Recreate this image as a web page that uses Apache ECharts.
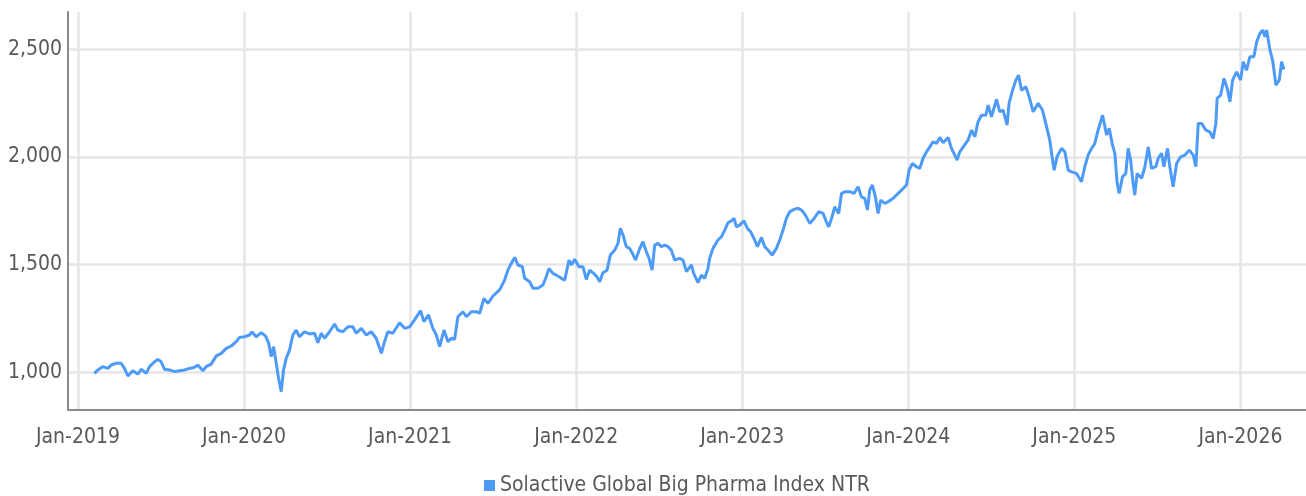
<!DOCTYPE html>
<html>
<head>
<meta charset="utf-8">
<script src="https://cdn.jsdelivr.net/npm/echarts@6/dist/echarts.min.js"></script>
<style>
html, body { margin: 0; padding: 0; background: #fff; }
#main { width: 1306px; height: 496px; }
</style>
</head>
<body>
<div id="main"></div>
<script>
var seriesName = 'Solactive Global Big Pharma Index NTR';
var yearTicks = [2019, 2020, 2021, 2022, 2023, 2024, 2025, 2026];
var valueTicks = [1000, 1500, 2000, 2500];

// position in decimal years
var dates = [
    2019.099, 2019.119, 2019.149, 2019.180, 2019.200, 2019.230, 2019.260, 2019.280, 2019.300, 2019.330,
    2019.360, 2019.381, 2019.411, 2019.431, 2019.461, 2019.481, 2019.501, 2019.521, 2019.551, 2019.581,
    2019.611, 2019.642, 2019.672, 2019.702, 2019.722, 2019.752, 2019.772, 2019.802, 2019.833, 2019.863,
    2019.893, 2019.923, 2019.953, 2019.973,
    2020.003, 2020.033, 2020.047, 2020.073, 2020.104, 2020.130, 2020.149, 2020.164, 2020.178, 2020.194,
    2020.208, 2020.224, 2020.238, 2020.254, 2020.274, 2020.294, 2020.314, 2020.334, 2020.364, 2020.395,
    2020.425, 2020.445, 2020.465, 2020.485, 2020.515, 2020.545, 2020.565, 2020.595, 2020.625, 2020.655,
    2020.676, 2020.706, 2020.736, 2020.766, 2020.796, 2020.827, 2020.846, 2020.866, 2020.896, 2020.937,
    2020.967, 2020.997,
    2021.027, 2021.063, 2021.083, 2021.111, 2021.137, 2021.158, 2021.178, 2021.204, 2021.228, 2021.248,
    2021.268, 2021.288, 2021.318, 2021.339, 2021.369, 2021.399, 2021.419, 2021.445, 2021.469, 2021.499,
    2021.539, 2021.569, 2021.589, 2021.610, 2021.630, 2021.649, 2021.676, 2021.690, 2021.720, 2021.740,
    2021.770, 2021.800, 2021.820, 2021.836, 2021.860, 2021.890, 2021.911, 2021.931, 2021.957, 2021.971,
    2021.991,
    2022.017, 2022.041, 2022.061, 2022.081, 2022.105, 2022.125, 2022.142, 2022.161, 2022.186, 2022.206,
    2022.232, 2022.252, 2022.266, 2022.282, 2022.302, 2022.322, 2022.339, 2022.358, 2022.383, 2022.402,
    2022.423, 2022.439, 2022.457, 2022.473, 2022.493, 2022.513, 2022.533, 2022.553, 2022.573, 2022.593,
    2022.623, 2022.643, 2022.664, 2022.694, 2022.708, 2022.734, 2022.754, 2022.774, 2022.794, 2022.804,
    2022.824, 2022.854, 2022.875, 2022.895, 2022.914, 2022.935, 2022.951, 2022.965, 2022.985,
    2023.011, 2023.031, 2023.051, 2023.071, 2023.092, 2023.116, 2023.136, 2023.155, 2023.180, 2023.206,
    2023.226, 2023.246, 2023.266, 2023.286, 2023.312, 2023.336, 2023.357, 2023.377, 2023.407, 2023.433,
    2023.461, 2023.487, 2023.507, 2023.521, 2023.541, 2023.557, 2023.581, 2023.598, 2023.622, 2023.648,
    2023.673, 2023.698, 2023.718, 2023.738, 2023.754, 2023.768, 2023.784, 2023.802, 2023.818, 2023.834,
    2023.858, 2023.878, 2023.908, 2023.939, 2023.969, 2023.989,
    2024.005, 2024.025, 2024.049, 2024.069, 2024.089, 2024.110, 2024.130, 2024.149, 2024.170, 2024.190,
    2024.210, 2024.240, 2024.260, 2024.280, 2024.294, 2024.310, 2024.334, 2024.360, 2024.381, 2024.401,
    2024.420, 2024.441, 2024.467, 2024.481, 2024.501, 2024.531, 2024.551, 2024.571, 2024.595, 2024.607,
    2024.628, 2024.648, 2024.664, 2024.682, 2024.708, 2024.728, 2024.752, 2024.782, 2024.808, 2024.833,
    2024.852, 2024.866, 2024.878, 2024.896, 2024.923, 2024.943, 2024.963, 2024.983,
    2025.013, 2025.043, 2025.063, 2025.083, 2025.104, 2025.123, 2025.143, 2025.170, 2025.194, 2025.210,
    2025.230, 2025.244, 2025.258, 2025.270, 2025.290, 2025.310, 2025.324, 2025.339, 2025.354, 2025.364,
    2025.378, 2025.405, 2025.425, 2025.445, 2025.465, 2025.491, 2025.505, 2025.525, 2025.539, 2025.561,
    2025.575, 2025.595, 2025.616, 2025.640, 2025.666, 2025.692, 2025.716, 2025.732, 2025.746, 2025.766,
    2025.792, 2025.816, 2025.836, 2025.852, 2025.860, 2025.881, 2025.901, 2025.921, 2025.937, 2025.953,
    2025.977,
    2026.001, 2026.017, 2026.037, 2026.057, 2026.081, 2026.098, 2026.117, 2026.134, 2026.148, 2026.158,
    2026.178, 2026.194, 2026.214, 2026.234, 2026.248, 2026.262
];

var values = [
    995, 1011, 1026, 1018, 1034, 1042, 1042, 1018, 983, 1007,
    992, 1014, 995, 1026, 1049, 1060, 1049, 1014, 1011, 1003,
    1007, 1011, 1018, 1023, 1034, 1007, 1026, 1038, 1076, 1088,
    1111, 1122, 1142, 1162,
    1165, 1173, 1188, 1165, 1184, 1168, 1134, 1072, 1119, 1042,
    972, 910, 1011, 1065, 1103, 1173, 1196, 1165, 1188, 1178,
    1181, 1137, 1181, 1158, 1188, 1224, 1196, 1188, 1211, 1211,
    1181, 1204, 1173, 1188, 1158, 1088, 1142, 1188, 1181, 1230,
    1204, 1211,
    1243, 1286, 1235, 1266, 1204, 1173, 1119, 1196, 1142, 1158,
    1153, 1258, 1281, 1258, 1281, 1281, 1274, 1343, 1320, 1354,
    1382, 1428, 1474, 1506, 1533, 1498, 1490, 1436, 1420, 1390,
    1390, 1405, 1443, 1482, 1459, 1447, 1436, 1428, 1521, 1498,
    1524,
    1490, 1490, 1431, 1474, 1459, 1443, 1420, 1462, 1474, 1544,
    1567, 1598, 1668, 1637, 1583, 1575, 1552, 1521, 1575, 1606,
    1559, 1529, 1474, 1590, 1598, 1583, 1590, 1583, 1567, 1521,
    1529, 1521, 1467, 1498, 1459, 1416, 1451, 1436, 1482, 1529,
    1575, 1614, 1629, 1660, 1694, 1703, 1714, 1675, 1683,
    1703, 1668, 1652, 1621, 1583, 1626, 1583, 1567, 1544, 1575,
    1614, 1660, 1714, 1745, 1756, 1761, 1753, 1734, 1691, 1714,
    1745, 1737, 1698, 1675, 1722, 1768, 1737, 1830, 1838, 1838,
    1830, 1861, 1814, 1807, 1753, 1846, 1869, 1814, 1737, 1799,
    1784, 1791, 1807, 1830, 1853, 1869,
    1938, 1969, 1954, 1946, 1993, 2023, 2046, 2070, 2062, 2090,
    2065, 2090, 2039, 2008, 1985, 2023, 2050, 2077, 2124, 2093,
    2162, 2193, 2193, 2240, 2185, 2266, 2209, 2217, 2147, 2248,
    2309, 2356, 2379, 2309, 2325, 2278, 2209, 2248, 2217, 2139,
    2077, 2000, 1938, 2000, 2039, 2023, 1938, 1930,
    1923, 1884, 1954, 2008, 2039, 2062, 2124, 2193, 2101, 2132,
    2054, 2016, 1877, 1830, 1907, 1923, 2039, 1985, 1877, 1822,
    1923, 1900, 1954, 2046, 1946, 1954, 1993, 2016, 1954, 2039,
    1954, 1861, 1969, 2000, 2008, 2031, 2008, 1954, 2155, 2155,
    2124, 2116, 2085, 2155, 2271, 2286, 2364, 2317, 2255, 2356,
    2394,
    2356, 2441, 2402, 2464, 2464, 2533, 2572, 2588, 2557, 2588,
    2495, 2448, 2333, 2356, 2441, 2405
];

var FONT = "'Liberation Sans Narrow', 'DejaVu Sans Condensed', Roboto, sans-serif";
var TEXT = '#595959';

var chart = echarts.init(document.getElementById('main'));

var option = {
    animation: false,
    backgroundColor: '#fff',
    grid: {
        left: 68,
        right: 0,
        top: 12,
        bottom: 86
    },
    legend: {
        data: [seriesName],
        left: 479,
        top: 470,
        icon: 'rect',
        itemWidth: 11,
        itemHeight: 11,
        textStyle: {
            fontFamily: FONT,
            fontSize: 21,
            color: TEXT
        }
    },
    xAxis: {
        type: 'value',
        min: 2018.94,
        max: 2026.395,
        axisLine: {
            onZero: false,
            lineStyle: { color: '#8a8a8a', width: 2 }
        },
        axisTick: { show: false, customValues: yearTicks },
        splitLine: {
            show: true,
            lineStyle: { color: '#e6e6e6', width: 2.5 }
        },
        axisLabel: {
            customValues: yearTicks,
            margin: 17,
            fontFamily: FONT,
            fontSize: 21,
            color: TEXT,
            formatter: function (v) { return 'Jan-' + v; }
        }
    },
    yAxis: {
        type: 'value',
        min: 825,
        max: 2672,
        axisLine: {
            show: true,
            lineStyle: { color: '#8a8a8a', width: 2 }
        },
        axisTick: { show: false, customValues: valueTicks },
        splitLine: {
            show: true,
            lineStyle: { color: '#e6e6e6', width: 2.5 }
        },
        axisLabel: {
            customValues: valueTicks,
            margin: 6,
            fontFamily: FONT,
            fontSize: 21,
            color: TEXT,
            formatter: function (v) { return v.toLocaleString('en-US'); }
        }
    },
    series: [
        {
            name: seriesName,
            type: 'line',
            showSymbol: false,
            color: '#4d9bf7',
            lineStyle: { width: 3, color: '#4d9bf7' },
            data: dates.map(function (d, i) { return [d, values[i]]; })
        }
    ]
};

chart.setOption(option);
</script>
</body>
</html>
